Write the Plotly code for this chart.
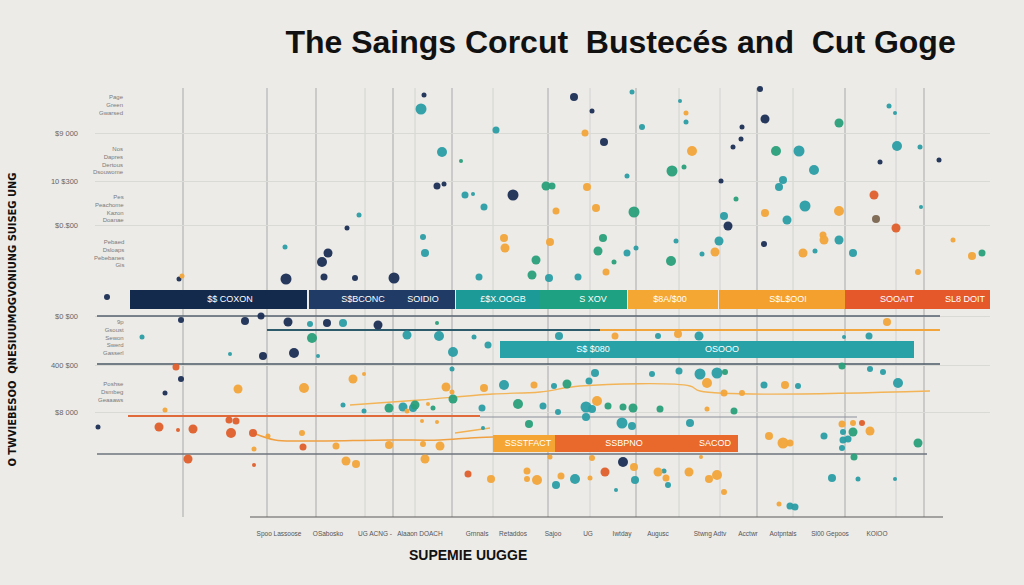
import plotly.graph_objects as go

# ---------------- data ----------------
title_text = "The Saings Corcut  Bustecés and  Cut Goge"
x_title_text = "SUPEMIE UUGGE"
y_title_text = "O TWVIEBESOO  QNESIUUMOGVONIUNG SUISEG UNG"

x_label_pos = [27.9, 32.8, 37.5, 42.0, 47.7, 51.3, 55.3, 58.8, 62.2, 65.8, 71.0, 74.8, 78.3, 83.0, 87.7]
x_label_text = ["Spoo Lassoose", "OSabosko", "UG ACNG -", "Alaaon DOACH", "Grnnals", "Retaddos",
                "Sajoo", "UG", "Iwtday", "Augusc", "Stwng Adtv", "Acctwr", "Aotpntals",
                "Sl00 Gepoos", "KOlOO"]

y_tick_vals = [46.7, 41.9, 37.5, 28.4, 23.5, 18.8]
y_tick_text = ["$9 000", "10 $300", "$0.$00", "$0 $00", "400 $00", "$8 000"]

side_note_y = [49.5, 44.0, 39.2, 34.7, 26.3, 20.8]
side_note_text = ["Page<br>Green<br>Gwarsed",
                  "Nos<br>Dapres<br>Dertous<br>Dsouwome",
                  "Pes<br>Peachome<br>Kazon<br>Doanae",
                  "Pebaed<br>Dsloaps<br>Pebebanes<br>Gis",
                  "9p<br>Gsoust<br>Sewon<br>Swerd<br>Gasserl",
                  "Poshse<br>Dsmbeg<br>Geaaaws"]

vline_x = [18.3, 26.7, 31.6, 36.5, 39.3, 41.5, 45.2, 49.3, 54.8, 59.0, 63.6, 67.9, 72.0, 75.7, 79.3, 84.5, 89.6, 92.4]
vline_strong = [1, 1, 1, 0, 1, 0, 1, 0, 1, 0, 1, 0, 0, 1, 0, 1, 0, 1]

# horizontal rules
hline_y = [27.0, 27.0, 28.4, 23.6, 18.4, 18.3, 14.6, 8.3]
hline_x0 = [26.7, 60.0, 9.7, 9.7, 12.8, 48.0, 9.7, 25.0]
hline_x1 = [60.0, 94.0, 94.0, 94.0, 48.0, 85.7, 92.7, 94.3]
hline_color = ["#2e5b6c", "#f2a53a", "#55606c", "#4a5966", "#e06a3a", "#8a9099", "#6c747c", "#5a5a5a"]
hline_width = [2.2, 2.2, 1.4, 1.6, 2.0, 1.2, 1.4, 1.2]

curve1_x = [35.0, 42.0, 49.3, 54.0, 58.0, 69.0, 70.0, 93.0]
curve1_y = [19.5, 20.0, 20.6, 20.8, 21.4, 21.4, 20.9, 20.9]
curve2_x = [25.3, 27.5, 30.0, 39.0, 44.0, 47.0, 49.3]
curve2_y = [16.7, 16.0, 15.9, 16.0, 16.0, 16.2, 16.3]
curve3_x = [45.5, 49.0]
curve3_y = [16.7, 17.2]

# dots
navy_x = [42.4, 43.7, 44.4, 51.3, 34.7, 32.8, 32.2, 28.6, 32.4, 35.5, 39.4, 17.9, 57.4, 59.2, 76.0, 76.5, 74.2,
          74.1, 73.3, 60.4, 93.9, 88.0, 72.1, 72.8, 76.4, 18.1, 24.5, 26.1, 28.8, 32.7, 37.8, 29.4, 26.3, 18.1,
          16.5, 9.8, 62.3, 10.7]
navy_y = [50.5, 41.4, 41.6, 40.5, 37.2, 34.7, 33.8, 32.1, 32.3, 32.2, 32.2, 32.1, 50.3, 48.9, 51.1, 48.1, 47.3,
          46.1, 45.3, 45.8, 44.0, 43.8, 41.9, 37.4, 35.6, 28.0, 27.9, 28.4, 27.8, 27.7, 27.5, 24.7, 24.4, 22.1,
          20.7, 17.3, 13.8, 30.3]
navy_s = [5, 7, 5, 11, 5, 9, 10, 11, 7, 6, 11, 5, 8, 5, 6, 9, 5, 5, 5, 8, 5, 5, 5, 9, 6, 6, 8, 7, 9, 8, 9, 10,
          8, 6, 5, 5, 10, 6]

teal_x = [42.1, 49.6, 44.2, 46.5, 47.3, 48.4, 35.9, 42.3, 42.5, 28.5, 47.9, 63.2, 68.0, 68.6, 64.2, 88.9, 89.5,
          89.7, 92.0, 79.9, 81.4, 62.7, 78.3, 77.9, 80.5, 72.4, 78.7, 92.1, 62.7, 63.6, 67.6, 70.2, 71.9, 83.9,
          81.5, 85.3, 54.9, 57.8, 31.0, 34.3, 40.7, 43.9, 47.4, 48.8, 45.3, 23.0, 14.2, 31.8, 45.2, 34.3, 36.4,
          40.3, 41.3, 48.2, 48.3, 55.9, 65.8, 69.9, 86.9, 84.4, 59.5, 65.2, 67.9, 70.0, 71.7, 50.4, 55.4, 58.9,
          76.4, 79.8, 89.8, 87.0, 88.3, 54.3, 58.6, 59.2, 55.8, 58.6, 62.2, 63.2, 69.0, 84.3, 82.4, 84.3, 84.8,
          84.2, 55.6, 57.5, 63.5, 61.6, 66.4, 66.8, 79.0, 79.5, 83.2, 85.8, 89.5]
teal_y = [49.1, 47.0, 44.8, 40.5, 40.6, 39.3, 38.5, 36.3, 34.7, 35.3, 32.3, 50.8, 49.9, 47.8, 47.3, 49.4, 48.7,
          45.4, 45.3, 44.9, 43.0, 42.4, 42.0, 41.3, 39.4, 38.4, 38.0, 39.3, 34.7, 35.2, 35.9, 34.6, 35.9, 36.0,
          34.9, 34.7, 32.2, 32.3, 27.6, 27.7, 26.5, 26.4, 26.3, 25.5, 24.8, 24.6, 26.3, 24.4, 23.1, 19.5, 18.9,
          19.3, 19.2, 19.2, 17.2, 26.4, 26.4, 26.4, 26.4, 26.3, 22.7, 22.6, 22.9, 22.6, 22.7, 21.5, 21.4, 21.9,
          21.5, 21.4, 21.7, 23.1, 22.8, 19.4, 19.3, 19.1, 18.8, 18.3, 17.7, 17.4, 17.7, 16.8, 16.4, 16.0, 16.1,
          15.2, 11.5, 12.1, 12.0, 11.0, 12.9, 11.5, 9.4, 9.3, 12.2, 12.1, 12.1]
teal_s = [11, 7, 10, 7, 4, 7, 5, 6, 8, 5, 7, 5, 4, 5, 6, 5, 4, 10, 5, 11, 10, 5, 8, 8, 11, 8, 9, 4, 7, 5, 5, 5,
          9, 9, 5, 8, 8, 7, 6, 8, 9, 10, 5, 7, 10, 4, 5, 4, 5, 5, 5, 9, 8, 7, 4, 8, 6, 9, 7, 4, 8, 6, 7, 11, 11,
          10, 6, 7, 7, 6, 10, 6, 6, 7, 11, 8, 6, 8, 11, 8, 8, 6, 7, 7, 7, 6, 8, 10, 8, 4, 5, 6, 7, 7, 8, 5, 4]

green_x = [46.1, 53.6, 53.2, 83.9, 77.6, 67.2, 68.4, 54.6, 55.2, 73.6, 63.4, 60.3, 59.8, 67.1, 98.2, 43.7, 31.2,
           45.3, 38.9, 41.5, 43.3, 72.5, 84.2, 56.7, 51.8, 60.8, 62.3, 63.3, 66.0, 73.4, 52.9, 85.3, 91.8, 85.4,
           61.4]
green_y = [43.9, 34.0, 32.5, 47.7, 44.9, 42.9, 43.3, 41.4, 41.4, 40.1, 38.8, 36.2, 34.9, 33.9, 34.7, 27.7, 26.2,
           20.1, 19.2, 19.5, 19.2, 22.8, 23.4, 21.6, 19.6, 19.4, 19.3, 19.2, 19.1, 18.9, 17.6, 16.8, 15.7, 14.3,
           33.8]
green_s = [4, 9, 9, 9, 10, 11, 5, 9, 7, 5, 11, 8, 9, 10, 7, 4, 10, 9, 9, 9, 5, 6, 7, 9, 10, 7, 7, 9, 7, 7, 8,
           9, 9, 7, 5]

orange_x = [18.2, 50.5, 50.4, 68.6, 58.5, 69.2, 58.7, 55.6, 59.6, 76.5, 83.9, 55.0, 71.5, 82.3, 82.4, 80.3,
            95.3, 97.2, 60.6, 91.8, 16.5, 23.8, 30.4, 35.3, 36.4, 44.6, 48.4, 45.2, 42.8, 40.7, 26.8, 30.2, 33.6,
            38.9, 42.3, 44.0, 42.2, 43.7, 25.4, 34.6, 35.6, 42.5, 49.1, 61.5, 67.8, 70.7, 53.4, 78.5, 72.4, 74.2,
            59.7, 70.7, 76.9, 78.3, 79.0, 87.0, 84.2, 85.3, 55.0, 59.2, 70.1, 52.7, 52.7, 53.7, 56.1, 59.0, 63.4,
            65.8, 66.6, 68.9, 70.9, 71.7, 72.4, 77.9, 88.7]
orange_y = [32.4, 35.2, 36.2, 48.7, 46.7, 44.9, 41.3, 38.9, 39.2, 38.7, 38.9, 35.8, 34.8, 36.5, 36.0, 34.7,
            36.0, 34.4, 32.8, 32.8, 19.0, 21.1, 21.2, 22.1, 22.6, 21.3, 21.2, 20.8, 19.6, 18.9, 16.4, 16.7, 15.4,
            15.5, 15.6, 15.4, 17.9, 17.8, 15.1, 13.9, 13.6, 14.1, 12.1, 26.4, 26.6, 21.7, 21.5, 21.5, 20.7, 20.7,
            19.9, 19.1, 16.4, 15.7, 15.7, 16.9, 17.6, 17.7, 14.3, 14.2, 14.3, 12.9, 12.1, 12.0, 12.4, 12.2, 13.3,
            12.8, 12.2, 12.8, 12.1, 12.5, 10.8, 9.6, 27.8]
orange_s = [5, 9, 8, 5, 7, 10, 8, 7, 8, 8, 10, 8, 9, 7, 9, 9, 5, 8, 7, 6, 5, 9, 10, 9, 4, 9, 8, 5, 4, 5, 5, 6,
            7, 8, 6, 9, 4, 4, 5, 9, 8, 9, 8, 7, 8, 10, 7, 8, 7, 6, 10, 5, 8, 11, 7, 9, 7, 6, 5, 6, 4, 7, 6, 10,
            7, 5, 8, 9, 7, 9, 8, 10, 6, 5, 8]

red_x = [87.4, 89.6, 17.6, 15.9, 17.8, 19.3, 22.9, 23.6, 23.1, 25.3, 30.3, 18.8, 25.4, 46.8, 60.5, 86.2]
red_y = [40.5, 37.2, 23.3, 17.3, 17.0, 17.1, 18.0, 17.9, 16.7, 16.7, 15.3, 14.1, 13.5, 12.6, 12.8, 17.7]
red_s = [9, 9, 7, 9, 4, 9, 7, 7, 10, 8, 7, 9, 4, 7, 9, 6]

brown_x = [87.6]
brown_y = [38.1]
brown_s = [8]

# horizontal bars (segments)
bar_y = [30.05, 30.05, 30.05, 30.05, 30.05, 30.05, 30.05, 25.05, 15.65, 15.65]
bar_start = [13.0, 30.9, 45.6, 54.0, 62.8, 71.9, 84.5, 50.0, 49.3, 55.5]
bar_end = [30.7, 45.5, 54.0, 62.7, 71.8, 84.5, 99.0, 91.4, 55.5, 73.8]
bar_color = ["#132a4c", "#1f3b66", "#1c9a98", "#1ea082", "#f4a733", "#f4a02e", "#e4582a",
             "#29a2a7", "#f5a533", "#e8692b"]
bar_thick = [1.9, 1.9, 1.9, 1.9, 1.9, 1.9, 1.9, 1.7, 1.7, 1.7]

bar_label_x = [23.0, 36.3, 42.3, 50.3, 59.3, 67.0, 78.8, 89.7, 96.5, 59.3, 72.2, 52.8, 62.4, 71.5]
bar_label_y = [30.05] * 9 + [25.05, 25.05, 15.65, 15.65, 15.65]
bar_label_text = ["$$ COXON", "S$BCONC", "SOIDIO", "£$X.OOGB", "S XOV", "$8A/$00", "S$L$OOI", "SOOAIT",
                  "SL8 DOIT", "S$ $080", "OSOOO", "SSSTFACT", "SSBPNO", "SACOD"]

# ---------------- figure ----------------
BG = "#ecebe8"
fig = go.Figure()

# horizontal rules
for y, x0, x1, c, w in zip(hline_y, hline_x0, hline_x1, hline_color, hline_width):
    fig.add_trace(go.Scatter(x=[x0, x1], y=[y, y], mode="lines",
                             line=dict(color=c, width=w), hoverinfo="skip"))
for cx, cy, c, w in [(curve1_x, curve1_y, "#f2b457", 1.3), (curve2_x, curve2_y, "#f0a040", 1.5),
                     (curve3_x, curve3_y, "#f2b050", 1.3)]:
    fig.add_trace(go.Scatter(x=cx, y=cy, mode="lines", line=dict(color=c, width=w, shape="spline"),
                             hoverinfo="skip"))

# dots
for xs, ys, ss, col in [(navy_x, navy_y, navy_s, "#1b2e54"),
                        (teal_x, teal_y, teal_s, "#2b9da4"),
                        (green_x, green_y, green_s, "#2a9f7a"),
                        (orange_x, orange_y, orange_s, "#f2a53a"),
                        (red_x, red_y, red_s, "#df5f2b"),
                        (brown_x, brown_y, brown_s, "#7b6650")]:
    fig.add_trace(go.Scatter(x=xs, y=ys, mode="markers",
                             marker=dict(size=ss, color=col, opacity=0.95, line=dict(width=0))))

# bars
fig.add_trace(go.Bar(orientation="h", y=bar_y, base=bar_start,
                     x=[e - s for s, e in zip(bar_start, bar_end)],
                     width=bar_thick, marker=dict(color=bar_color, line=dict(width=0))))

# bar labels
fig.add_trace(go.Scatter(x=bar_label_x, y=bar_label_y, mode="text", text=bar_label_text,
                         textfont=dict(size=9, color="#ffffff", family="Liberation Sans Narrow, Liberation Sans, Arial")))

# vertical rules
for xv, st in zip(vline_x, vline_strong):
    fig.add_shape(type="line", xref="x", yref="y", x0=xv, x1=xv, y0=8.3, y1=51.2,
                  line=dict(color="#a9a9a9" if st else "#d2d2d0", width=1), layer="below")

# side notes
for yv, txt in zip(side_note_y, side_note_text):
    fig.add_annotation(x=12.6, y=yv, xref="x", yref="y", text=txt, showarrow=False,
                       xanchor="right", yanchor="middle", align="right",
                       font=dict(size=6, color="#7a7a7a", family="Liberation Sans"))

# axis title (x)
fig.add_annotation(x=46.8, y=-0.08, xref="x", yref="paper", text="<b>" + x_title_text + "</b>",
                   showarrow=False, xanchor="center", yanchor="middle",
                   font=dict(size=14, color="#111111", family="Liberation Sans Narrow, Liberation Sans, Arial"))
# axis title (y)
fig.add_annotation(x=-0.092, y=0.46, xref="paper", yref="paper", text="<b>" + y_title_text + "</b>",
                   showarrow=False, textangle=-90, xanchor="center", yanchor="middle",
                   font=dict(size=11, color="#111111", family="DejaVu Sans Condensed, DejaVu Sans"))

fig.update_layout(
    width=1024, height=585,
    paper_bgcolor=BG, plot_bgcolor=BG,
    margin=dict(l=95, r=34, t=85, b=65),
    showlegend=False,
    barmode="overlay",
    title=dict(text="<b>" + title_text + "</b>", x=0.606, xref="container", xanchor="center",
               y=1 - 42 / 585, yref="container", yanchor="middle",
               font=dict(size=32, color="#111111", family="Liberation Sans, Arial")),
    xaxis=dict(range=[9.5, 99.0], tickvals=x_label_pos, ticktext=x_label_text, showgrid=False,
               zeroline=False, showline=False, ticks="", ticklabelstandoff=8, tickangle=0,
               tickfont=dict(size=6.5, color="#555555", family="Liberation Sans Narrow, Liberation Sans")),
    yaxis=dict(range=[8.0, 51.5], tickvals=y_tick_vals, ticktext=y_tick_text, showgrid=True,
               gridcolor="#d9d9d6", gridwidth=1, zeroline=False, showline=False, ticks="",
               ticklabelstandoff=16,
               tickfont=dict(size=7.5, color="#666666", family="Liberation Sans")),
)

fig.write_html("out.html")
